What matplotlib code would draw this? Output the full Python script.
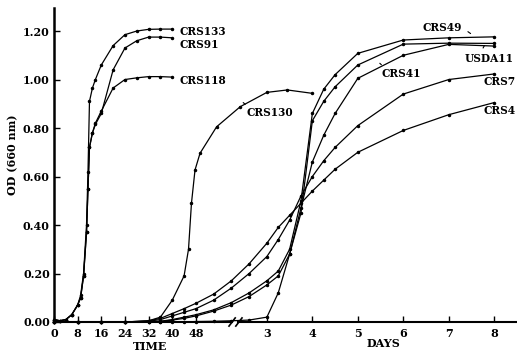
import numpy as np
import matplotlib.pyplot as plt

# fast strains, time in hours
t_fast = [0, 2, 4, 6, 8, 9, 10, 11, 11.5, 12, 13, 14, 16, 20, 24, 28, 32, 36, 40]
crs133 = [0.01, 0.005, 0.01, 0.03, 0.07, 0.11, 0.20, 0.40, 0.62, 0.91, 0.965, 1.0, 1.06, 1.14, 1.185,
          1.20, 1.207, 1.208, 1.208]
crs91 = [0.01, 0.005, 0.01, 0.03, 0.07, 0.10, 0.19, 0.37, 0.55, 0.72, 0.78, 0.815, 0.86, 1.04, 1.13,
         1.16, 1.175, 1.175, 1.172]
crs118 = [0.01, 0.005, 0.01, 0.03, 0.07, 0.10, 0.19, 0.37, 0.55, 0.72, 0.78, 0.82, 0.87, 0.965, 1.0,
          1.007, 1.012, 1.012, 1.01]

# CRS130: hours, then days
t130_hours = [0, 8, 16, 24, 32, 36, 40, 44, 45.5, 46.5, 47.7, 49.4, 55, 63]
t130_days = [3, 3.45, 4]
crs130 = [0, 0, 0, 0, 0.005, 0.02, 0.09, 0.19, 0.30, 0.49, 0.627, 0.696, 0.805, 0.888,
          0.947, 0.957, 0.943]

# slow strains: hours, then days
t_slow_hours = [0, 8, 16, 24, 32, 36, 40, 44, 48, 54, 60, 66]
t_slow_days = [3, 3.25, 3.5, 3.75, 4, 4.25, 4.5, 5, 6, 7, 8]
crs49 = [0, 0, 0, 0, 0, 0.003, 0.01, 0.02, 0.03, 0.05, 0.08, 0.12,
         0.17, 0.21, 0.30, 0.50, 0.86, 0.96, 1.02, 1.108, 1.163, 1.172, 1.176]
usda11 = [0, 0, 0, 0, 0, 0.002, 0.008, 0.015, 0.025, 0.045, 0.07, 0.105,
          0.153, 0.19, 0.28, 0.45, 0.83, 0.91, 0.97, 1.06, 1.146, 1.15, 1.149]
crs41 = [0, 0, 0, 0, 0, 0, 0, 0, 0.002, 0.003, 0.005, 0.008,
         0.02, 0.12, 0.28, 0.47, 0.66, 0.77, 0.86, 1.005, 1.10, 1.145, 1.138]
crs7 = [0, 0, 0, 0, 0.003, 0.01, 0.025, 0.04, 0.055, 0.09, 0.14, 0.20,
        0.27, 0.34, 0.42, 0.52, 0.60, 0.665, 0.72, 0.81, 0.94, 1.0, 1.023]
crs4 = [0, 0, 0, 0, 0.005, 0.015, 0.035, 0.055, 0.077, 0.115, 0.17, 0.24,
        0.325, 0.39, 0.44, 0.49, 0.54, 0.585, 0.63, 0.70, 0.79, 0.855, 0.905]

hour_ticks = [0, 8, 16, 24, 32, 40, 48]
day_ticks = [3, 4, 5, 6, 7, 8]
od_ticks = [0.0, 0.2, 0.4, 0.6, 0.8, 1.0, 1.2]

# curve labels: (text, hours, OD)
labels = [("CRS133", 42.6, 1.20), ("CRS91", 42.6, 1.146), ("CRS118", 42.6, 0.998),
          ("CRS7", 186.5, 0.99), ("CRS4", 186.5, 0.874)]
# labels with a small leader: (text, text hours, text OD, leader start, leader end)
leader_labels = [("CRS130", 65.2, 0.862, (65.4, 0.89), (64.0, 0.905)),
                 ("CRS49", 154.3, 1.215, (176.9, 1.204), (180.7, 1.183)),
                 ("USDA11", 176.4, 1.087, (185.4, 1.12), (187.5, 1.15)),
                 ("CRS41", 132.7, 1.025, (133.5, 1.053), (131.6, 1.067))]


def fwd(h):
    h = np.asarray(h, float)
    return np.where(h < 72, h * 2.958, 213 + (h - 72) * 1.896)


def inv(p):
    p = np.asarray(p, float)
    return np.where(p < 213, p / 2.958, 72 + (p - 213) / 1.896)


def hours(h, d=()):
    return list(h) + [x * 24 for x in d]


plt.rcParams['font.family'] = ['DejaVu Serif']
plt.rcParams['font.weight'] = 'bold'

fig = plt.figure(figsize=(5.17, 3.52), dpi=100)
ax = fig.add_axes([54 / 517, 1 - 322 / 352, 463 / 517, 314 / 352])
ax.set_xscale('function', functions=(fwd, inv))

style = dict(color='black', lw=0.9, marker='o', ms=1.5, clip_on=False)
for y in (crs133, crs91, crs118):
    ax.plot(hours(t_fast), y, **style)
ax.plot(hours(t130_hours, t130_days), crs130, **style)
for y in (crs49, usda11, crs41, crs7, crs4):
    ax.plot(hours(t_slow_hours, t_slow_days), y, **style)

ax.set_xlim(0, 204)
ax.set_ylim(0, 1.295)

ax.set_xticks(hour_ticks + [d * 24 for d in day_ticks])
ax.set_xticklabels([str(h) for h in hour_ticks] + [str(d) for d in day_ticks])
ax.set_yticks(od_ticks)
ax.set_yticklabels(['%.2f' % v for v in od_ticks])
ax.xaxis.set_minor_locator(plt.NullLocator())
ax.tick_params(axis='x', direction='in', length=4, width=1, labelsize=8, pad=4)
ax.tick_params(axis='y', direction='in', length=4, width=1, labelsize=8, pad=3)

for s in ('top', 'right'):
    ax.spines[s].set_visible(False)
ax.spines['left'].set_linewidth(1.8)
ax.spines['bottom'].set_linewidth(1.5)
ax.spines['bottom'].set_bounds(0, 60.2)

# rest of the broken x axis and the break marks
xt = ax.get_xaxis_transform()
ax.plot([62.2, 204], [0, 0], color='black', lw=1.5, transform=xt, clip_on=False)
for x0 in (59.2, 61.5):
    ax.plot([x0, x0 + 2.1], [-0.013, 0.013], color='black', lw=1.2,
            transform=xt, clip_on=False)

for txt, x, y in labels:
    ax.text(x, y, txt, fontsize=7.6, fontweight='bold', ha='left', va='center')
for txt, x, y, p0, p1 in leader_labels:
    ax.text(x, y, txt, fontsize=7.6, fontweight='bold', ha='left', va='center')
    ax.annotate('', xy=p1, xytext=p0,
                arrowprops=dict(arrowstyle='-', color='black', lw=0.8))

fig.text(150 / 517, 1 - 346.7 / 352, 'TIME', fontsize=8, fontweight='bold',
         ha='center', va='center')
fig.text(383 / 517, 1 - 343.3 / 352, 'DAYS', fontsize=8, fontweight='bold',
         ha='center', va='center')
fig.text(13 / 517, 1 - 155 / 352, 'OD (660 nm)', fontsize=8, fontweight='bold',
         ha='center', va='center', rotation=90)

fig.savefig('out.png', dpi=100)
